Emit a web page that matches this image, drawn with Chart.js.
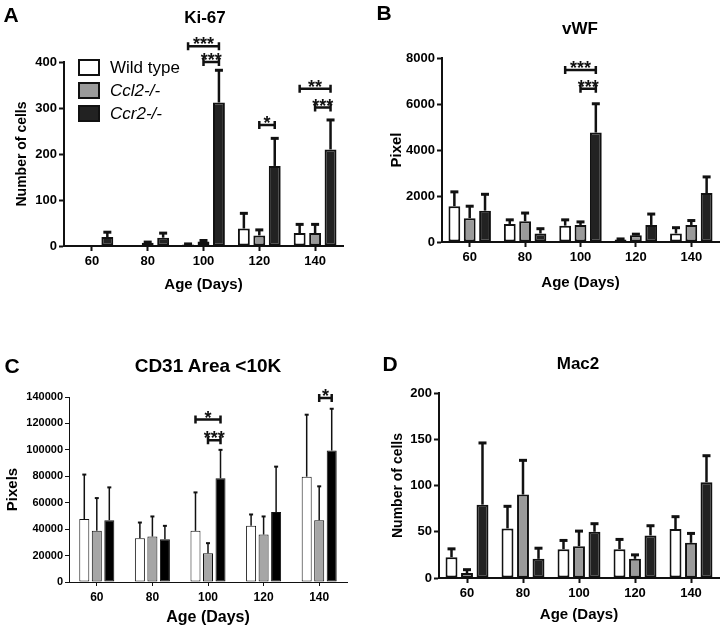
<!DOCTYPE html>
<html>
<head>
<meta charset="utf-8">
<script src="https://cdn.jsdelivr.net/npm/chart.js@4.4.1/dist/chart.umd.min.js"></script>
<style>
  html, body { margin: 0; padding: 0; background: #fff; }
  body { font-family: "Liberation Sans", Arial, sans-serif; color: #000; }
  #fig { position: relative; width: 720px; height: 627px; overflow: hidden; }
  canvas { position: absolute; display: block; }
  .txt { position: absolute; transform: translate(-50%, -50%); font-weight: bold; white-space: nowrap; line-height: 1; }
  .letter { font-size: 21px; }
  .title { font-size: 17px; }
  #legend { position: absolute; left: 78px; top: 59px; font-size: 17px; }
  #legend .row { position: absolute; left: 0; height: 17px; white-space: nowrap; }
  #legend .box { position: absolute; left: 0; top: 0; width: 18px; height: 13px; border: 2px solid #111; }
  #legend .lab { position: absolute; left: 32px; top: -1px; line-height: 19px; }
</style>
</head>
<body>
<div id="fig">
  <canvas id="chartA" width="360" height="305" style="left:0;top:0"></canvas>
  <canvas id="chartB" width="360" height="305" style="left:360px;top:0"></canvas>
  <canvas id="chartC" width="360" height="322" style="left:0;top:305px"></canvas>
  <canvas id="chartD" width="360" height="322" style="left:360px;top:305px"></canvas>

  <div class="txt letter" style="left:11px;top:14px">A</div>
  <div class="txt title" style="left:205px;top:17px">Ki-67</div>
  <div class="txt letter" style="left:384px;top:12px">B</div>
  <div class="txt title" style="left:580px;top:28px">vWF</div>
  <div class="txt letter" style="left:12px;top:365px">C</div>
  <div class="txt title" style="left:208px;top:365px;font-size:19px">CD31 Area &lt;10K</div>
  <div class="txt letter" style="left:390px;top:363px">D</div>
  <div class="txt title" style="left:578px;top:363px">Mac2</div>

  <div id="legend"></div>
</div>

<script>
// categories and series
const ages = ['60', '80', '100', '120', '140'];
const seriesNames = ['Wild type', 'Ccl2-/-', 'Ccr2-/-'];
const seriesItalic = [false, true, true];

// A: Ki-67 (number of cells), mean and SD
const ki67Wt = [0.5, 1, 3.5, 38, 28];
const ki67Ccl2 = [0.5, 7, 10, 23, 28];
const ki67Ccr2 = [19.5, 18, 312, 174, 210];
const ki67WtSd = [0, 0, 1, 33, 19];
const ki67Ccl2Sd = [0, 1.5, 2, 12, 19];
const ki67Ccr2Sd = [10.5, 10, 70, 60, 64];
const ki67Ticks = [0, 100, 200, 300, 400];
// [category, from series, to series, height, label]
const ki67Sig = [[2, 0, 2, 434, '***'], [2, 1, 2, 400, '***'], [3, 1, 2, 263, '*'], [4, 0, 2, 342, '**'], [4, 1, 2, 301, '***']];

// B: vWF (pixel)
const vwfWt = [1556, 785, 711, 104, 370];
const vwfCcl2 = [1037, 904, 741, 296, 741];
const vwfCcr2 = [1363, 370, 4760, 741, 2130];
const vwfWtSd = [624, 178, 252, 29, 252];
const vwfCcl2Sd = [519, 355, 133, 44, 192];
const vwfCcr2Sd = [711, 208, 1250, 474, 700];
const vwfTicks = [0, 2000, 4000, 6000, 8000];
const vwfSig = [[2, 0, 2, 7480, '***'], [2, 1, 2, 6660, '***']];

// C: CD31 area <10K (pixels)
const cd31Wt = [47600, 33200, 38700, 42500, 79700];
const cd31Ccl2 = [38700, 34400, 21800, 35900, 46800];
const cd31Ccr2 = [46800, 32400, 78500, 52900, 99500];
const cd31WtSd = [33700, 11800, 29100, 8600, 46900];
const cd31Ccl2Sd = [24800, 15200, 7600, 13700, 25600];
const cd31Ccr2Sd = [24800, 10100, 21500, 34400, 31600];
const cd31Ticks = [0, 20000, 40000, 60000, 80000, 100000, 120000, 140000];
const cd31Sig = [[2, 0, 2, 122900, '*'], [2, 1, 2, 107300, '***'], [4, 1, 2, 139300, '*']];

// D: Mac2 (number of cells)
const mac2Wt = [22.5, 53.6, 31.2, 31.2, 52.9];
const mac2Ccl2 = [5.4, 90.2, 34.4, 20.7, 38];
const mac2Ccr2 = [79.3, 20.7, 50, 46, 103.6];
const mac2WtSd = [9, 23.9, 9.4, 10.5, 13.4];
const mac2Ccl2Sd = [3.6, 37, 16.3, 4.3, 10.2];
const mac2Ccr2Sd = [66.7, 11.5, 8.7, 10.5, 28.6];
const mac2Ticks = [0, 50, 100, 150, 200];

const prismFills = ['#ffffff', '#9a9a9a', '#222222'];
const excelFills = ['#ffffff', '#a6a6a6', '#000000'];

Chart.defaults.font.family = '"Liberation Sans", Arial, sans-serif';
Chart.defaults.color = '#000';

// upward SD whiskers with a cap
const errorBars = {
  id: 'errorBars',
  afterDatasetsDraw(chart, args, opts) {
    const ctx = chart.ctx;
    const yScale = chart.scales.y;
    ctx.save();
    ctx.strokeStyle = '#111';
    chart.data.datasets.forEach((ds, i) => {
      const meta = chart.getDatasetMeta(i);
      meta.data.forEach((bar, j) => {
        const sd = ds.errors[j];
        if (!sd) return;
        const y0 = yScale.getPixelForValue(ds.data[j]);
        const y1 = yScale.getPixelForValue(ds.data[j] + sd);
        ctx.lineWidth = opts.lineWidth;
        ctx.beginPath();
        ctx.moveTo(bar.x, y0);
        ctx.lineTo(bar.x, y1);
        ctx.stroke();
        ctx.lineWidth = opts.capLineWidth;
        ctx.beginPath();
        ctx.moveTo(bar.x - opts.capHalf, y1);
        ctx.lineTo(bar.x + opts.capHalf, y1);
        ctx.stroke();
      });
    });
    ctx.restore();
  }
};

// significance brackets between two bars of one age group
const brackets = {
  id: 'brackets',
  afterDatasetsDraw(chart, args, opts) {
    const ctx = chart.ctx;
    const yScale = chart.scales.y;
    ctx.save();
    ctx.strokeStyle = '#111';
    ctx.fillStyle = '#111';
    ctx.lineWidth = 2.5;
    ctx.font = 'bold ' + opts.starSize + 'px "Liberation Sans", Arial, sans-serif';
    ctx.textAlign = 'center';
    ctx.textBaseline = 'alphabetic';
    (opts.items || []).forEach(([cat, a, b, v, label]) => {
      const x1 = chart.getDatasetMeta(a).data[cat].x;
      const x2 = chart.getDatasetMeta(b).data[cat].x;
      const y = yScale.getPixelForValue(v);
      ctx.beginPath();
      ctx.moveTo(x1, y); ctx.lineTo(x2, y);
      ctx.moveTo(x1, y - 4); ctx.lineTo(x1, y + 4);
      ctx.moveTo(x2, y - 4); ctx.lineTo(x2, y + 4);
      ctx.stroke();
      ctx.fillText(label, (x1 + x2) / 2, y + opts.starDrop);
    });
    ctx.restore();
  }
};

function makePanel(canvasId, p) {
  const ctx = document.getElementById(canvasId);
  const lw = p.thin ? 1 : 2;
  const yMax = p.ticks[p.ticks.length - 1];
  return new Chart(ctx, {
    type: 'bar',
    data: {
      labels: ages,
      datasets: p.values.map((vals, i) => ({
        label: seriesNames[i],
        data: vals,
        errors: p.errors[i],
        backgroundColor: p.fills[i],
        borderColor: '#111',
        borderWidth: lw,
        borderSkipped: false,
        categoryPercentage: p.thin ? 0.675 : 0.83,
        barPercentage: p.thin ? 0.8 : 0.77
      }))
    },
    options: {
      responsive: false,
      animation: false,
      events: [],
      layout: { padding: p.pad },
      plugins: {
        legend: { display: false },
        tooltip: { enabled: false },
        errorBars: p.thin ? { lineWidth: 1.5, capLineWidth: 2, capHalf: 2 } : { lineWidth: 2.5, capLineWidth: 3, capHalf: 4 },
        brackets: { items: p.sig, starSize: 18, starDrop: 4 }
      },
      scales: {
        x: {
          offset: true,
          grid: { display: true, offset: false, drawOnChartArea: false, drawTicks: true, tickLength: p.tick, tickColor: '#111', tickWidth: lw },
          border: { display: true, color: '#111', width: lw },
          ticks: { color: '#000', font: { size: p.tickSize, weight: 'bold' }, padding: p.xPad, maxRotation: 0, autoSkip: false },
          title: { display: true, text: 'Age (Days)', color: '#000', font: { size: p.xTitleSize, weight: 'bold' }, padding: { top: 0, bottom: p.xTitlePad } },
          afterFit: s => { s.height = p.xHeight; }
        },
        y: {
          min: 0,
          max: yMax,
          afterBuildTicks: s => { s.ticks = p.ticks.map(v => ({ value: v })); },
          grid: { display: true, drawOnChartArea: false, drawTicks: true, tickLength: p.tick, tickColor: '#111', tickWidth: lw },
          border: { display: true, color: '#111', width: lw },
          ticks: { color: '#000', font: { size: p.yTickSize || p.tickSize, weight: 'bold' }, padding: 2, callback: v => String(v) },
          title: { display: true, text: p.yTitle, color: '#000', font: { size: p.yTitleSize, weight: 'bold' }, padding: { top: p.yTitlePad, bottom: 0 } },
          afterFit: s => { s.width = p.yWidth; }
        }
      }
    },
    plugins: [errorBars, brackets]
  });
}

makePanel('chartA', {
  values: [ki67Wt, ki67Ccl2, ki67Ccr2], errors: [ki67WtSd, ki67Ccl2Sd, ki67Ccr2Sd],
  fills: prismFills, ticks: ki67Ticks, sig: ki67Sig, yTitle: 'Number of cells',
  pad: { left: 0, top: 62, right: 17, bottom: 0 }, yWidth: 64, xHeight: 59,
  tick: 5, xPad: 3, tickSize: 13, xTitleSize: 15, xTitlePad: 11, yTitleSize: 14, yTitlePad: 13.6
});

makePanel('chartB', {
  values: [vwfWt, vwfCcl2, vwfCcr2], errors: [vwfWtSd, vwfCcl2Sd, vwfCcr2Sd],
  fills: prismFills, ticks: vwfTicks, sig: vwfSig, yTitle: 'Pixel',
  pad: { left: 0, top: 58, right: 1, bottom: 0 }, yWidth: 82, xHeight: 63,
  tick: 5, xPad: 3, tickSize: 13, xTitleSize: 15, xTitlePad: 13, yTitleSize: 15, yTitlePad: 28
});

makePanel('chartC', {
  thin: true,
  values: [cd31Wt, cd31Ccl2, cd31Ccr2], errors: [cd31WtSd, cd31Ccl2Sd, cd31Ccr2Sd],
  fills: excelFills, ticks: cd31Ticks, sig: cd31Sig, yTitle: 'Pixels',
  pad: { left: 0, top: 92, right: 13, bottom: 0 }, yWidth: 69, xHeight: 45,
  tick: 4, xPad: 4, tickSize: 12, yTickSize: 11, xTitleSize: 16, xTitlePad: 0, yTitleSize: 15, yTitlePad: 4
});

makePanel('chartD', {
  values: [mac2Wt, mac2Ccl2, mac2Ccr2], errors: [mac2WtSd, mac2Ccl2Sd, mac2Ccr2Sd],
  fills: prismFills, ticks: mac2Ticks, sig: [], yTitle: 'Number of cells',
  pad: { left: 0, top: 88, right: 1, bottom: 0 }, yWidth: 79, xHeight: 49,
  tick: 5, xPad: 2.5, tickSize: 13, xTitleSize: 15, xTitlePad: 3, yTitleSize: 14, yTitlePad: 29.6
});

// legend of panel A
const legend = document.getElementById('legend');
const legendRowTops = [0, 23, 46];
seriesNames.forEach((name, i) => {
  const row = document.createElement('div');
  row.className = 'row';
  row.style.top = legendRowTops[i] + 'px';
  const box = document.createElement('div');
  box.className = 'box';
  box.style.background = prismFills[i];
  const lab = document.createElement('div');
  lab.className = 'lab';
  lab.textContent = name;
  if (seriesItalic[i]) lab.style.fontStyle = 'italic';
  row.appendChild(box);
  row.appendChild(lab);
  legend.appendChild(row);
});
</script>
</body>
</html>
